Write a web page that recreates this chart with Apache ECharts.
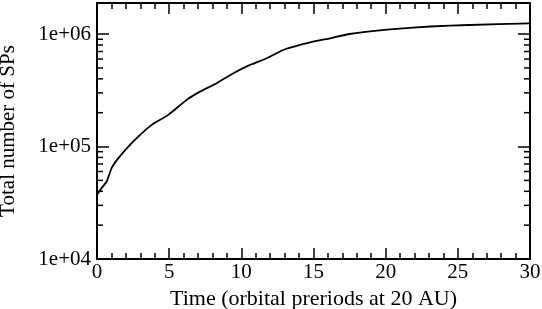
<!DOCTYPE html>
<html><head><meta charset="utf-8">
<script src="https://cdn.jsdelivr.net/npm/echarts@6/dist/echarts.min.js"></script>
<style>html,body{margin:0;padding:0;background:#fff}#c{width:542px;height:309px}</style>
</head><body><div id="c"></div>
<script>
const timeData = [0, 0.32, 0.67, 1.02, 1.48, 2.17, 2.86, 3.79, 4.94, 6.21, 7.14, 8.29, 9.45, 10.6, 11.76, 12.91, 14.07, 15.22, 16.15, 17.5, 19.4, 21.2, 23.1, 25.8, 30];
const spCount = [37200, 42700, 48900, 64700, 78900, 100000, 122700, 155900, 191200, 260000, 307800, 365600, 448600, 531700, 609800, 722300, 800000, 868500, 917900, 1002000, 1072000, 1126000, 1168000, 1205000, 1247000];
const yTickLabels = ['1e+04', '1e+05', '1e+06'];
const yMinorTicks = [2e4,3e4,4e4,5e4,6e4,7e4,8e4,9e4,2e5,3e5,4e5,5e5,6e5,7e5,8e5,9e5];
const xTitle = 'Time (orbital preriods at 20 AU)';
const yTitle = 'Total number of SPs';

const FONT = 'Liberation Serif';
const chart = echarts.init(document.getElementById('c'), null, {renderer: 'canvas'});
function yLabel(v) {
  const e = Math.log10(v);
  if (Math.abs(e - Math.round(e)) > 1e-6) return '';
  const idx = Math.round(e) - 4;
  return yTickLabels[idx] || '';
}
const xCommon = {
  type: 'value', min: 0, max: 30, interval: 5,
  axisLine: {show: true, onZero: false, lineStyle: {color: '#000', width: 2}},
  axisTick: {show: true, inside: true, length: 11, lineStyle: {color: '#000', width: 1.5}},
  minorTick: {show: true, splitNumber: 5, length: 6, lineStyle: {color: '#000', width: 1.5}},
  splitLine: {show: false}
};
const yCommon = {
  type: 'log', logBase: 10, min: 1e4, max: 1.89e6,
  axisLine: {show: true, onZero: false, lineStyle: {color: '#000', width: 2}},
  axisTick: {show: true, inside: true, length: 12, lineStyle: {color: '#000', width: 1.5}},
  splitLine: {show: false}
};
chart.setOption({
  animation: false,
  backgroundColor: '#fff',
  grid: {left: 97, right: 12, top: 3, bottom: 50, containLabel: false, outerBoundsMode: 'none'},
  xAxis: [
    Object.assign({}, xCommon, {position: 'bottom',
      name: xTitle, nameLocation: 'middle', nameGap: 29,
      nameTextStyle: {fontFamily: FONT, fontSize: 22, color: '#000'},
      axisLabel: {show: true, margin: 3, fontFamily: FONT, fontSize: 21, color: '#000'}}),
    Object.assign({}, xCommon, {position: 'top', axisLabel: {show: false}})
  ],
  yAxis: [
    Object.assign({}, yCommon, {position: 'left',
      name: yTitle, nameLocation: 'middle', nameGap: 78, nameRotate: 90,
      nameTextStyle: {fontFamily: FONT, fontSize: 21, color: '#000'},
      axisLabel: {show: true, margin: 6, fontFamily: FONT, fontSize: 21, color: '#000', formatter: yLabel}}),
    Object.assign({}, yCommon, {position: 'right', axisLabel: {show: false}})
  ],
  series: [
    {
      type: 'line', xAxisIndex: 0, yAxisIndex: 0,
      data: timeData.map((t, i) => [t, spCount[i]]),
      showSymbol: false, smooth: 0.2,
      lineStyle: {color: '#000', width: 1.8}
    },
    {
      type: 'custom', xAxisIndex: 0, yAxisIndex: 0, clip: false, silent: true,
      data: yMinorTicks.map(v => [0, v]),
      renderItem: function (params, api) {
        const v = api.value(1);
        const pl = api.coord([0, v]);
        const pr = api.coord([30, v]);
        const style = {stroke: '#000', lineWidth: 1.5};
        return {type: 'group', children: [
          {type: 'line', shape: {x1: pl[0], y1: pl[1], x2: pl[0] + 6, y2: pl[1]}, style: style},
          {type: 'line', shape: {x1: pr[0], y1: pr[1], x2: pr[0] - 6, y2: pr[1]}, style: style}
        ]};
      }
    }
  ]
});
</script></body></html>
